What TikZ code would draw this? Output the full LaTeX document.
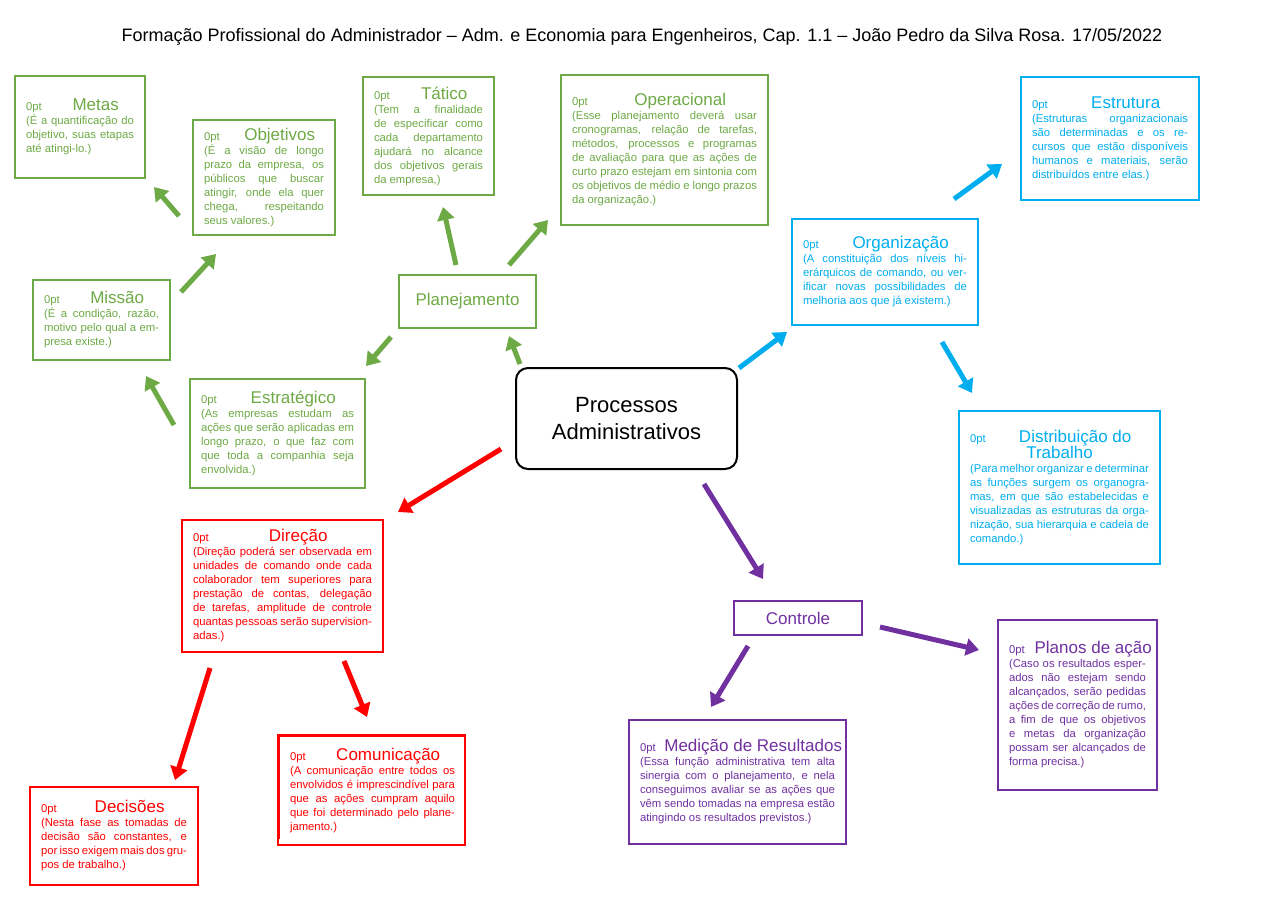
\documentclass[tikz,border=0pt]{standalone}
\usepackage{fontspec}
\setmainfont{Liberation Sans}
\usetikzlibrary{arrows.meta}
\definecolor{grn}{HTML}{6DA945}
\definecolor{blu}{HTML}{00ADEF}
\definecolor{rd}{HTML}{FF0000}
\definecolor{prp}{HTML}{7030A0}
\newcommand{\hd}[1]{\makebox[\linewidth]{\fontsize{17}{20}\selectfont #1}\par}
\tikzset{
    box/.style={draw=#1, text=#1, line width=2pt, anchor=north west, align=justify,
        inner xsep=11pt, inner ysep=5pt,
        font=\fontsize{11.3}{14}\selectfont\hyphenpenalty=10000\exhyphenpenalty=10000\tolerance=9999},
    arr/.style={draw=#1, line width=5pt, -{Triangle[length=13pt,width=17pt]}},
}
\begin{document}
\begin{tikzpicture}[x=1pt,y=-1pt]
\useasboundingbox (0,0) rectangle (1280,905);
\node[font=\fontsize{18}{20}\selectfont] (title) at (642,37) {Formação Profissional do Administrador – Adm. e Economia para Engenheiros, Cap. 1.1 – João Pedro da Silva Rosa. 17/05/2022};

\node[draw, line width=2pt, rounded corners=12pt, minimum width=221pt, minimum height=101pt, align=center, font=\fontsize{22}{27}\selectfont] (proc) at (626.5,418.5) {Processos\\Administrativos};

\node[box=grn, minimum width=130pt, minimum height=102pt, text width=108pt] (metas) at (14,75) {\hd{Metas}(É a quantificação do objetivo, suas etapas até atingi-lo.)};
\node[box=grn, minimum width=142pt, minimum height=115pt, text width=120pt] (obj) at (192,119) {\hd{Objetivos}(É a visão de longo prazo da empresa, os públicos que buscar atingir, onde ela quer chega, respeitando seus valores.)};
\node[box=grn, minimum width=131pt, minimum height=118pt, text width=109pt] (tat) at (362,76) {\hd{Tático}(Tem a finalidade de especificar como cada departamento ajudará no alcance dos objetivos gerais da empresa,)};
\node[box=grn, minimum width=207pt, minimum height=150pt, text width=185pt] (oper) at (560,74) {\hd{Operacional}(Esse planejamento deverá usar cronogramas, relação de tarefas, métodos, processos e programas de avaliação para que as ações de curto prazo estejam em sintonia com os objetivos de médio e longo prazos da organização.)};
\node[box=grn, minimum width=137pt, minimum height=53pt, align=center, font=\fontsize{17}{20}\selectfont] (plan) at (398,274) {Planejamento};
\node[box=grn, minimum width=137pt, minimum height=80pt, text width=115pt] (miss) at (32,279) {\hd{Missão}(É a condição, razão, motivo pelo qual a empresa existe.)};
\node[box=grn, minimum width=175pt, minimum height=109pt, text width=153pt] (estr) at (189,378) {\hd{Estratégico}(As empresas estudam as ações que serão aplicadas em longo prazo, o que faz com que toda a companhia seja envolvida.)};

\node[box=blu, minimum width=178pt, minimum height=123pt, text width=156pt] (estrut) at (1020,76) {\hd{Estrutura}(Estruturas organizacionais são determinadas e os recursos que estão disponíveis humanos e materiais, serão distribuídos entre elas.)};
\node[box=blu, minimum width=186pt, minimum height=106pt, text width=164pt] (org) at (791,218) {\hd{Organização}(A constituição dos níveis hierárquicos de comando, ou verificar novas possibilidades de melhoria aos que já existem.)};
\node[box=blu, minimum width=201pt, minimum height=153pt, text width=179pt] (dist) at (958,410) {\hd{Distribuição do}\hd{Trabalho}(Para melhor organizar e determinar as funções surgem os organogramas, em que são estabelecidas e visualizadas as estruturas da organização, sua hierarquia e cadeia de comando.)};

\node[box=rd, minimum width=201pt, minimum height=132pt, text width=179pt] (dir) at (181,519) {\hd{Direção}(Direção poderá ser observada em unidades de comando onde cada colaborador tem superiores para prestação de contas, delegação de tarefas, amplitude de controle quantas pessoas serão supervisionadas.)};
\node[box=rd, minimum width=168pt, minimum height=98pt, text width=146pt] (dec) at (29,786) {\hd{Decisões}(Nesta fase as tomadas de decisão são constantes, e por isso exigem mais dos grupos de trabalho.)};
\begin{scope}
\clip (278,735) rectangle (465,838);
\node[box=rd, minimum width=187pt, minimum height=110pt, text width=165pt] (com) at (278,735) {\hd{Comunicação}(A comunicação entre todos os envolvidos é imprescindível para que as ações cumpram aquilo que foi determinado pelo planejamento.)};
\end{scope}
\draw[rd, line width=2pt] (278,735) rectangle (465,845);

\node[box=prp, minimum width=128pt, minimum height=34pt, align=center, font=\fontsize{17}{20}\selectfont] (ctrl) at (733,600) {Controle};
\node[box=prp, minimum width=159pt, minimum height=170pt, text width=137pt] (planos) at (997,619) {\hd{Planos de ação}(Caso os resultados esperados não estejam sendo alcançados, serão pedidas ações de correção de rumo, a fim de que os objetivos e metas da organização possam ser alcançados de forma precisa.)};
\node[box=prp, minimum width=217pt, minimum height=124pt, text width=195pt] (med) at (628,719) {\hd{Medição de Resultados}(Essa função administrativa tem alta sinergia com o planejamento, e nela conseguimos avaliar se as ações que vêm sendo tomadas na empresa estão atingindo os resultados previstos.)};

\draw[arr=grn] (520,364) -- (509,336);
\draw[arr=grn] (391,337) -- (366,366);
\draw[arr=grn] (456,265) -- (443,207);
\draw[arr=grn] (509,265) -- (548,220);
\draw[arr=grn] (174,425) -- (146,376);
\draw[arr=grn] (181,292) -- (216,254);
\draw[arr=grn] (179,216) -- (154,187);

\draw[arr=blu] (739,368) -- (787,332);
\draw[arr=blu] (954,199) -- (1002,164);
\draw[arr=blu] (942,342) -- (972,393);

\draw[arr=rd] (501,449) -- (398,512);
\draw[arr=rd] (210,668) -- (175,780);
\draw[arr=rd] (344,661) -- (367,717);

\draw[arr=prp] (704,484) -- (763,579);
\draw[arr=prp] (748,646) -- (711,707);
\draw[arr=prp] (880,627) -- (979,650);
\end{tikzpicture}
\end{document}
